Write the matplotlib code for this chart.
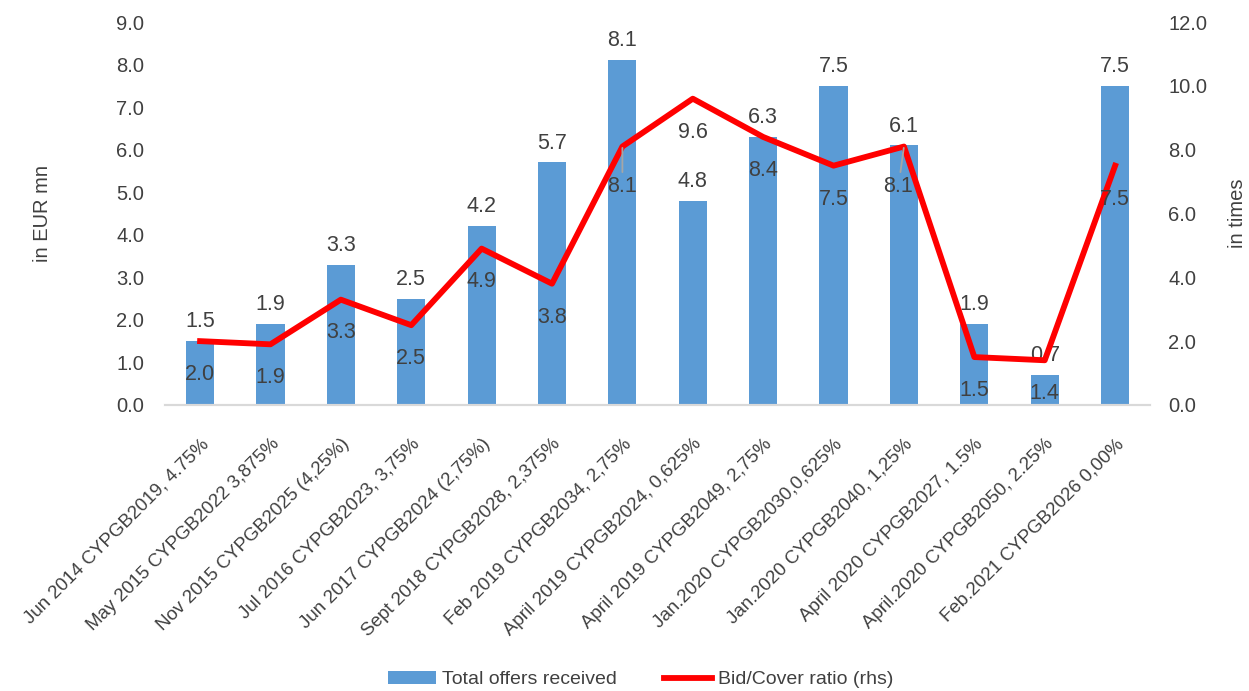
import numpy as np
import matplotlib
matplotlib.use("Agg")
import matplotlib.pyplot as plt
from matplotlib import font_manager

categories = [
    "Jun 2014 CYPGB2019, 4.75%",
    "May 2015 CYPGB2022 3,875%",
    "Nov 2015 CYPGB2025 (4,25%)",
    "Jul 2016 CYPGB2023, 3,75%",
    "Jun 2017 CYPGB2024 (2,75%)",
    "Sept 2018 CYPGB2028, 2,375%",
    "Feb 2019 CYPGB2034, 2,75%",
    "April 2019 CYPGB2024, 0,625%",
    "April 2019 CYPGB2049, 2,75%",
    "Jan.2020 CYPGB2030,0,625%",
    "Jan.2020 CYPGB2040, 1,25%",
    "April 2020 CYPGB2027, 1.5%",
    "April.2020 CYPGB2050, 2.25%",
    "Feb.2021 CYPGB2026 0,00%",
]
offers = [1.5, 1.9, 3.3, 2.5, 4.2, 5.7, 8.1, 4.8, 6.3, 7.5, 6.1, 1.9, 0.7, 7.5]
bid_cover = [2.0, 1.9, 3.3, 2.5, 4.9, 3.8, 8.1, 9.6, 8.4, 7.5, 8.1, 1.5, 1.4, 7.5]

left_ticks = np.arange(0, 9.5, 1.0)
right_ticks = np.arange(0, 12.5, 2.0)

# narrow font like the original if we have it
names = {f.name for f in font_manager.fontManager.ttflist}
fam = ["Liberation Sans Narrow"] if "Liberation Sans Narrow" in names else ["Liberation Sans"]
plt.rcParams["font.family"] = fam + ["DejaVu Sans"]

txt = "#404040"
bar_col = "#5B9BD5"
line_col = "#FF0000"

fig = plt.figure(figsize=(12.49, 6.91), dpi=100)
ax = fig.add_axes([0.132, 0.414, 0.789, 0.554])
ax2 = ax.twinx()

x = np.arange(len(categories))
ax.bar(x, offers, width=0.4, color=bar_col, label="Total offers received", zorder=2)
ax2.plot(x, bid_cover, color=line_col, lw=4.2, label="Bid/Cover ratio (rhs)", zorder=3)

ax.set_xlim(-0.5, len(categories) - 0.5)
ax.set_ylim(0, 9)
ax2.set_ylim(0, 12)
ax.set_yticks(left_ticks)
ax.set_yticklabels([f"{v:.1f}" for v in left_ticks])
ax2.set_yticks(right_ticks)
ax2.set_yticklabels([f"{v:.1f}" for v in right_ticks])

ax.set_xticks(x)
ax.set_xticklabels(categories, rotation=45, ha="right", rotation_mode="anchor",
                   fontsize=13.5, color=txt)

for a in (ax, ax2):
    for s in ("top", "left", "right"):
        a.spines[s].set_visible(False)
    a.spines["bottom"].set_color("#D9D9D9")
    a.spines["bottom"].set_linewidth(1.5)
    a.tick_params(length=0, labelsize=14.5, colors=txt)
ax.tick_params(axis="y", pad=15)
ax2.tick_params(axis="y", pad=13)
ax.tick_params(axis="x", pad=22, labelsize=13.5)

ax.set_ylabel("in EUR mn", fontsize=14.5, color=txt, labelpad=46)
ax2.set_ylabel("in times", fontsize=14.5, color=txt, labelpad=15)

# data labels
for xi, v in zip(x, offers):
    ax.annotate(f"{v:.1f}", (xi, v), xytext=(0, 14), textcoords="offset points",
                ha="center", va="center", fontsize=15.5, color=txt)

leader = [6, 10]  # labels pushed down with a small leader line
for i, (xi, v) in enumerate(zip(x, bid_cover)):
    if i in leader:
        dx = -4 if i == 10 else 0
        ax2.annotate(f"{v:.1f}", (xi, v), xytext=(dx, -29), textcoords="offset points",
                     ha="center", va="center", fontsize=15.5, color=txt, zorder=4,
                     arrowprops=dict(arrowstyle="-", color="#A6A6A6", lw=1.3,
                                     shrinkA=1, shrinkB=1))
    else:
        ax2.annotate(f"{v:.1f}", (xi, v), xytext=(0, -24), textcoords="offset points",
                     ha="center", va="center", fontsize=15.5, color=txt, zorder=4)

h1, l1 = ax.get_legend_handles_labels()
h2, l2 = ax2.get_legend_handles_labels()
fig.legend(h1 + h2, l1 + l2, loc="center", bbox_to_anchor=(0.513, 0.016), ncol=2,
           frameon=False, fontsize=14, labelcolor=txt, handlelength=2.5,
           handleheight=0.6, handletextpad=0.3, columnspacing=2.4)

fig.savefig("out.png", dpi=100)
